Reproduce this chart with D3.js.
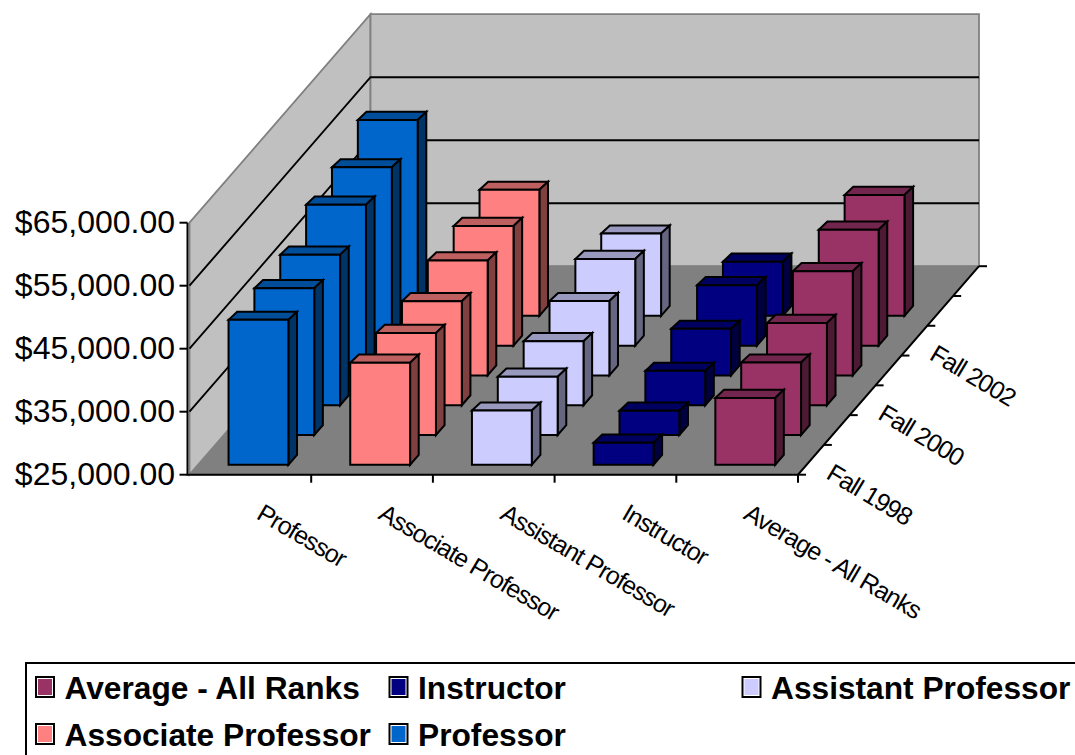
<!DOCTYPE html>
<html><head><meta charset="utf-8">
<script src="https://cdnjs.cloudflare.com/ajax/libs/d3/7.8.5/d3.min.js"></script>
<style>html,body{margin:0;padding:0;background:#fff;overflow:hidden}svg{display:block}text{font-family:"Liberation Sans",Arial,sans-serif;fill:#000}</style>
</head><body><svg id="c" width="1075" height="755"></svg>
<script>
const categories = ["Professor","Associate Professor","Assistant Professor","Instructor","Average - All Ranks"];
const terms = ["Fall 1998","Fall 1999","Fall 2000","Fall 2001","Fall 2002","Fall 2003",""];
const shownTerms = ["Fall 1998","Fall 2000","Fall 2002"];
const professor = [48000,48300,48900,52100,53300,56100];
const associate = [41200,41200,41500,43250,44000,45000];
const assistant = [33600,34250,35150,36800,38760,38060];
const instructor = [28500,28860,30450,32400,34600,33600];
const average = [35600,36500,38060,41550,43400,44200];
const yTicks = [25000,35000,45000,55000,65000];
const colors = ["#0066CC","#FF8080","#CCCCFF","#000080","#993366"];
const seriesValues = [professor,associate,assistant,instructor,average];
const legendOrder = [4,3,2,1,0];

const svg = d3.select("#c");
const x = d3.scaleLinear().domain([0,5]).range([189.5,798]);
const band = d3.scaleBand().domain(categories).range([189.5,798]).paddingInner(0.5).paddingOuter(0.25);
const y = d3.scaleLinear().domain([25000,65000]).range([474.7,222.7]);
const depth = d3.scaleBand().domain(terms).range([0,1]).paddingInner(2/3).paddingOuter(1/3);
const dX = d3.scaleLinear().domain([0,1]).range([0,181]);
const dY = d3.scaleLinear().domain([0,1]).range([0,208.5]);
const P = (px,d,v)=>[px+dX(d), y(v)-dY(d)];
const path = pts=>"M"+pts.map(p=>p.join(",")).join("L")+"Z";
const [v0,v1] = y.domain(), [x0,x1] = band.range();

// walls and floor
const wallG = svg.append("g");
wallG.append("path").attr("d",path([P(x0,0,v1),P(x0,1,v1),P(x0,1,v0),P(x0,0,v0)])).attr("fill","#C0C0C0").attr("stroke","#808080").attr("stroke-width",1.8);
wallG.append("path").attr("d",path([P(x0,1,v1),P(x1,1,v1),P(x1,1,v0),P(x0,1,v0)])).attr("fill","#C0C0C0").attr("stroke","#808080").attr("stroke-width",1.8);
wallG.append("path").attr("d",path([P(x0,0,v0),P(x1,0,v0),P(x1,1,v0),P(x0,1,v0)])).attr("fill","#808080").attr("stroke","#808080");
yTicks.slice(1,-1).forEach(t=>{
  wallG.append("polyline").attr("points",[P(x0,0,t),P(x0,1,t),P(x1,1,t)].map(p=>p.join(",")).join(" ")).attr("fill","none").attr("stroke","#000").attr("stroke-width",1.9);
});

// bars, back to front
const topDepthRatio = 0.82;
const bars = svg.append("g").attr("stroke","#000").attr("stroke-width",2).attr("stroke-linejoin","miter");
for(let k=5;k>=0;k--){
  categories.forEach((c,i)=>{
    const v = seriesValues[i][k], col = d3.color(colors[i]);
    const l = band(c), r = l+band.bandwidth()-1;
    const d0 = depth(terms[k]), d1 = d0+depth.bandwidth();
    const g = bars.append("g");
    const rgb = f=>d3.rgb(col.r*f,col.g*f,col.b*f).formatHex();
    const topBack = px=>[px+dX(d1), y(v)-dY(d0)-(dY(d1)-dY(d0))*topDepthRatio];
    g.append("path").attr("d",path([P(l,d0,v),topBack(l),topBack(r),P(r,d0,v)])).attr("fill",rgb(.75));
    g.append("path").attr("d",path([P(r,d0,v),topBack(r),P(r,d1,v0),P(r,d0,v0)])).attr("fill",rgb(.5));
    g.append("path").attr("d",path([P(l,d0,v),P(r,d0,v),P(r,d0,v0),P(l,d0,v0)])).attr("fill",rgb(1));
  });
}

// axes
const ax = svg.append("g").attr("stroke","#000").attr("stroke-width",2).attr("fill","none");
ax.append("path").attr("d",`M${x0-2},${y(v1)}V${y(v0)}H${x1}L${P(x1,1,v0).join(",")}`);
yTicks.forEach(t=>ax.append("path").attr("d",`M${x0-10},${y(t)}H${x0-2}`));
d3.range(1,6).forEach(i=>ax.append("path").attr("d",`M${x(i)},${y(v0)}v8`));
d3.range(0,8).forEach(i=>{const p=P(x1,i/7,v0);ax.append("path").attr("d",`M${p[0]},${p[1]}h8`)});

const fmt = d3.format("$,.2f");
svg.append("g").selectAll("text").data(yTicks).join("text")
  .attr("x",175).attr("y",t=>y(t)+10.5).attr("text-anchor","end").attr("font-size",32).text(fmt);

svg.append("g").selectAll("text").data(categories).join("text")
  .attr("font-size",25).attr("letter-spacing",-1.0)
  .attr("transform",c=>`translate(${band(c)+band.bandwidth()/2+5},518) rotate(30.5)`).text(d=>d);

svg.append("g").selectAll("text").data(shownTerms).join("text")
  .attr("font-size",25).attr("letter-spacing",-1.0)
  .attr("transform",t=>{const p=P(x1,depth(t)+depth.bandwidth()/2,v0);return `translate(${p[0]+14},${p[1]+18}) rotate(31)`}).text(d=>d);

// legend
svg.append("rect").attr("x",26).attr("y",663).attr("width",1060).attr("height",110).attr("fill","#fff").attr("stroke","#000").attr("stroke-width",2);
const legX = [36,389.5,742.5], legY=[677,724];
const lg = svg.append("g").selectAll("g").data(legendOrder).join("g")
  .attr("transform",(s,i)=>`translate(${legX[i%3]},${legY[Math.floor(i/3)]})`);
lg.append("rect").attr("width",18).attr("height",20).attr("fill","#fff").attr("stroke","#000").attr("stroke-width",2);
lg.append("rect").attr("x",2).attr("y",2).attr("width",14).attr("height",16).attr("fill",s=>colors[s]);
lg.append("text").attr("x",28.5).attr("y",22).attr("font-size",31.7).attr("font-weight","bold").text(s=>categories[s]);
</script></body></html>
